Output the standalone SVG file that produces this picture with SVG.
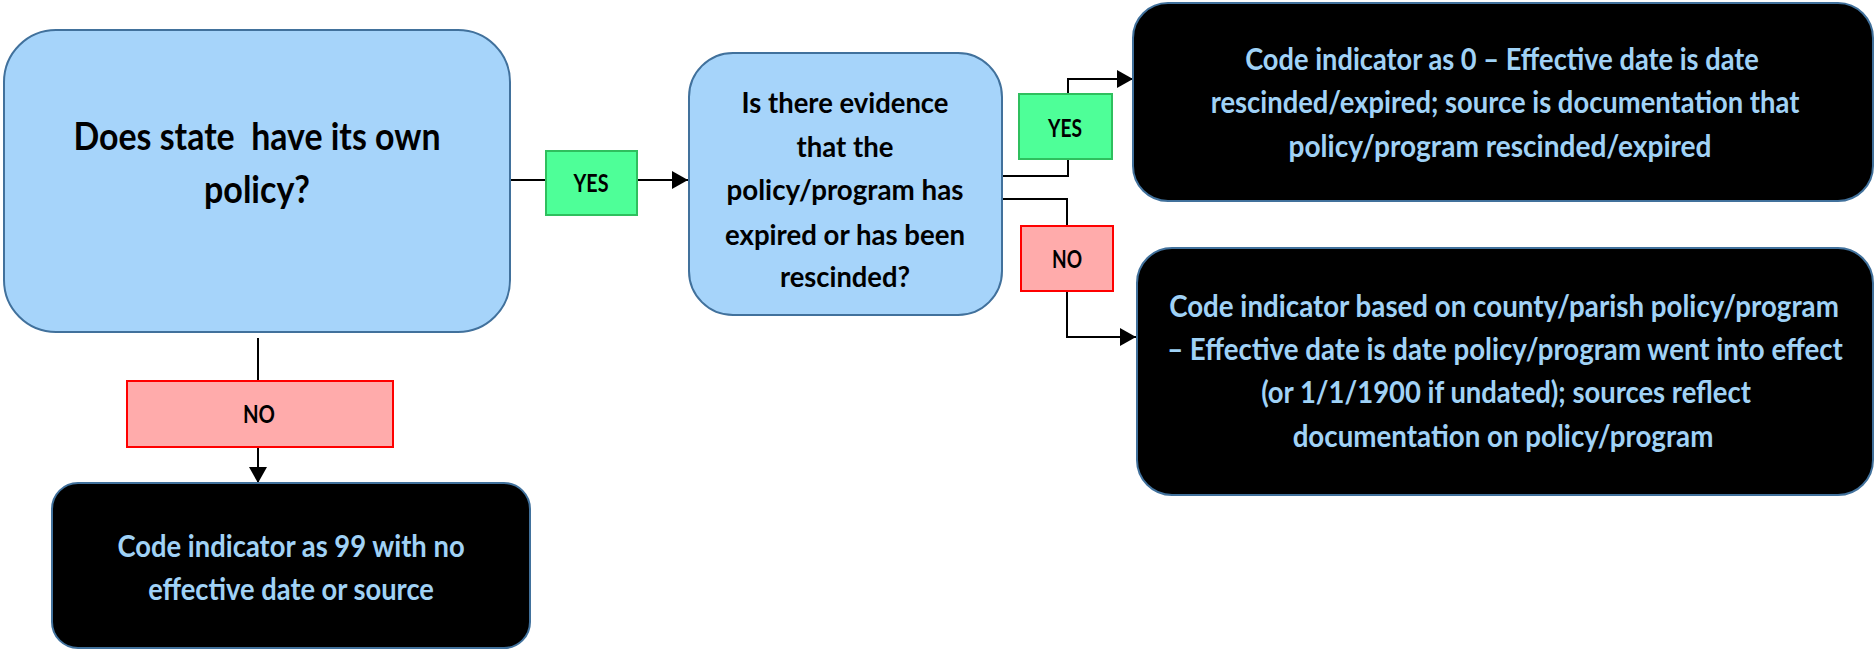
<svg xmlns="http://www.w3.org/2000/svg" width="1874" height="649" viewBox="0 0 1874 649">
<style>
.q{fill:#A6D4FA;stroke:#41719C;stroke-width:2}
.r{fill:#000;stroke:#41719C;stroke-width:2}
.yes{fill:#4EFF98;stroke:#2FBF5E;stroke-width:2}
.no{fill:#FFABAB;stroke:#FF0000;stroke-width:2}
.c{fill:none;stroke:#000;stroke-width:2}
text{font-family:Lato,"Open Sans","Liberation Sans",sans-serif;font-weight:bold;text-anchor:middle}
.tq{fill:#000}
.tr{fill:#A0D2F6;font-size:31px}
.tl{fill:#000;font-size:24px}
</style>
<defs>
<marker id="ah" markerUnits="userSpaceOnUse" markerWidth="16" markerHeight="18" refX="16" refY="9" orient="auto">
<path d="M0,0 L16,9 L0,18 z" fill="#000"/>
</marker>
</defs>
<g id="connectors">
<path class="c" d="M510,180 H546"/>
<path class="c" d="M637,180 H688" marker-end="url(#ah)"/>
<path class="c" d="M258,338 V381"/>
<path class="c" d="M258,447 V483" marker-end="url(#ah)"/>
<path class="c" d="M1002,176 H1068 V79 H1133" marker-end="url(#ah)"/>
<path class="c" d="M1002,199 H1067 V337 H1136" marker-end="url(#ah)"/>
</g>
<g id="q1">
<rect class="q" x="4" y="30" width="506" height="302" rx="52" ry="52"/>
<text class="tq" font-size="38" x="257" y="150" textLength="367" lengthAdjust="spacingAndGlyphs" xml:space="preserve">Does state  have its own</text>
<text class="tq" font-size="38" x="257" y="203" textLength="106" lengthAdjust="spacingAndGlyphs">policy?</text>
</g>
<g id="q2">
<rect class="q" x="689" y="53" width="313" height="262" rx="44" ry="44"/>
<text class="tq" font-size="28" x="845" y="113" textLength="207" lengthAdjust="spacingAndGlyphs">Is there evidence</text>
<text class="tq" font-size="28" x="845" y="157" textLength="97" lengthAdjust="spacingAndGlyphs">that the</text>
<text class="tq" font-size="28" x="845" y="200" textLength="237" lengthAdjust="spacingAndGlyphs">policy/program has</text>
<text class="tq" font-size="28" x="845" y="245" textLength="240" lengthAdjust="spacingAndGlyphs">expired or has been</text>
<text class="tq" font-size="28" x="845" y="287" textLength="130" lengthAdjust="spacingAndGlyphs">rescinded?</text>
</g>
<g id="yes1">
<rect class="yes" x="546" y="151" width="91" height="64"/>
<text class="tl" x="591" y="192" textLength="35" lengthAdjust="spacingAndGlyphs">YES</text>
</g>
<g id="no1">
<rect class="no" x="127" y="381" width="266" height="66"/>
<text class="tl" x="259" y="423" textLength="32" lengthAdjust="spacingAndGlyphs">NO</text>
</g>
<g id="yes2">
<rect class="yes" x="1019" y="94" width="93" height="65"/>
<text class="tl" x="1065" y="137" textLength="34" lengthAdjust="spacingAndGlyphs">YES</text>
</g>
<g id="no2">
<rect class="no" x="1021" y="226" width="92" height="65"/>
<text class="tl" x="1067" y="268" textLength="30" lengthAdjust="spacingAndGlyphs">NO</text>
</g>
<g id="r99">
<rect class="r" x="52" y="483" width="478" height="165" rx="26" ry="26"/>
<text class="tr" transform="translate(291,557) scale(0.75,1)" x="0" y="0" textLength="463" lengthAdjust="spacingAndGlyphs">Code indicator as 99 with no</text>
<text class="tr" transform="translate(291,600) scale(0.75,1)" x="0" y="0" textLength="381" lengthAdjust="spacingAndGlyphs">effective date or source</text>
</g>
<g id="r0">
<rect class="r" x="1133" y="3" width="740" height="198" rx="35" ry="35"/>
<text class="tr" transform="translate(1502,70) scale(0.75,1)" x="0" y="0" textLength="685" lengthAdjust="spacingAndGlyphs">Code indicator as 0 – Effective date is date</text>
<text class="tr" transform="translate(1505,113) scale(0.75,1)" x="0" y="0" textLength="785" lengthAdjust="spacingAndGlyphs">rescinded/expired; source is documentation that</text>
<text class="tr" transform="translate(1500,157) scale(0.75,1)" x="0" y="0" textLength="564" lengthAdjust="spacingAndGlyphs">policy/program rescinded/expired</text>
</g>
<g id="rcounty">
<rect class="r" x="1137" y="248" width="736" height="247" rx="35" ry="35"/>
<text class="tr" transform="translate(1504,317) scale(0.75,1)" x="0" y="0" textLength="893" lengthAdjust="spacingAndGlyphs">Code indicator based on county/parish policy/program</text>
<text class="tr" transform="translate(1505,360) scale(0.75,1)" x="0" y="0" textLength="901" lengthAdjust="spacingAndGlyphs">– Effective date is date policy/program went into effect</text>
<text class="tr" transform="translate(1506,403) scale(0.75,1)" x="0" y="0" textLength="653" lengthAdjust="spacingAndGlyphs">(or 1/1/1900 if undated); sources reflect</text>
<text class="tr" transform="translate(1503,447) scale(0.75,1)" x="0" y="0" textLength="561" lengthAdjust="spacingAndGlyphs">documentation on policy/program</text>
</g>
</svg>
